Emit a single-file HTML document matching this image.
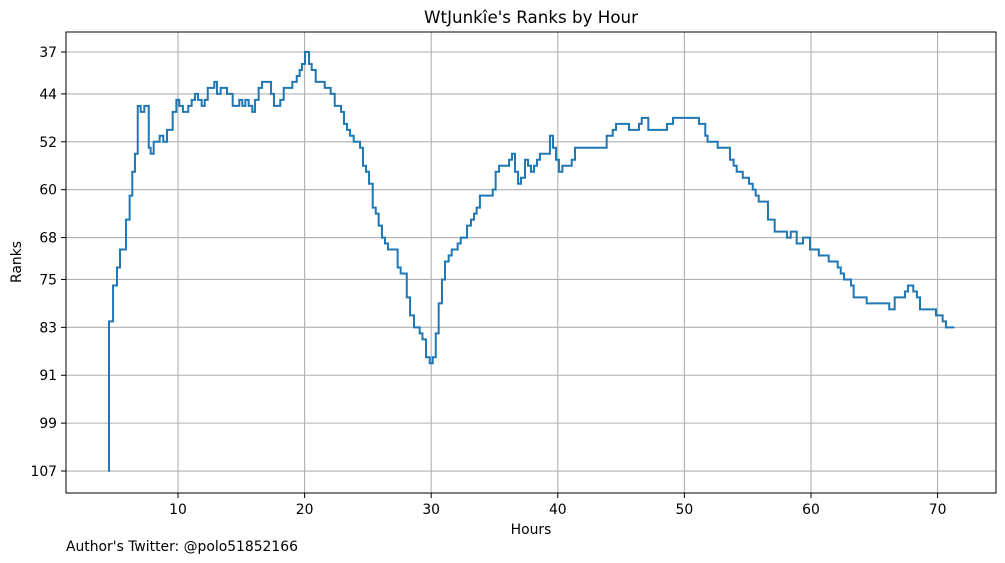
<!DOCTYPE html>
<html><head><meta charset="utf-8"><style>
html,body{margin:0;padding:0;background:#fff;}
svg{display:block;font-family:"DejaVu Sans","Liberation Sans",sans-serif;}
</style></head><body>
<svg id="chart" width="1005" height="563" viewBox="0 0 1005 563" xmlns="http://www.w3.org/2000/svg">
<rect x="0" y="0" width="1005" height="563" fill="#fff"/>
<text x="531" y="23" font-size="16.7" text-anchor="middle" fill="#000">WtJunkîe's Ranks by Hour</text>
<g id="grid"></g>
<g id="ticks"></g>
<path id="series" fill="none" stroke="#1f77b4" stroke-width="2" stroke-linejoin="miter"/>
<rect x="66" y="32" width="930" height="461" fill="none" stroke="#000" stroke-width="1"/>
<text x="531" y="534" font-size="13.9" text-anchor="middle">Hours</text>
<text transform="translate(21,262) rotate(-90)" font-size="13.9" text-anchor="middle">Ranks</text>
<text x="66" y="551" font-size="13.9">Author's Twitter: @polo51852166</text>
</svg>
<script>
const hours = [4.52,4.55,4.87,5.18,5.42,5.89,6.18,6.39,6.60,6.82,7.05,7.34,7.69,7.84,8.08,8.55,8.84,9.13,9.58,9.87,10.10,10.39,10.81,11.08,11.34,11.58,11.87,12.11,12.35,12.87,13.08,13.37,13.87,14.32,14.84,15.08,15.32,15.58,15.87,16.08,16.37,16.64,17.35,17.58,18.08,18.35,19.03,19.38,19.61,19.79,20.03,20.35,20.56,20.88,21.59,22.06,22.38,22.88,23.11,23.35,23.59,23.88,24.38,24.61,24.85,25.09,25.38,25.62,25.85,26.11,26.35,26.59,27.35,27.59,28.07,28.33,28.64,29.09,29.31,29.59,29.88,30.12,30.36,30.59,30.85,31.09,31.38,31.62,32.09,32.33,32.83,33.14,33.38,33.59,33.85,34.86,35.09,35.36,36.15,36.38,36.62,36.86,37.09,37.41,37.65,37.88,38.12,38.36,38.59,39.38,39.62,39.86,40.09,40.36,41.10,41.36,43.86,44.34,44.60,45.62,46.41,46.63,47.15,48.63,49.10,51.15,51.65,51.83,52.63,53.60,53.89,54.13,54.61,55.10,55.40,55.63,55.87,56.60,57.13,58.10,58.40,58.87,59.37,59.92,60.62,61.40,62.11,62.35,62.61,63.16,63.37,64.40,66.18,66.61,67.42,67.66,68.08,68.37,68.61,69.87,70.40,70.66,71.32];
const ranks = [107,82,76,73,70,65,61,57,54,46,47,46,53,54,52,51,52,50,47,45,46,47,46,45,44,45,46,45,43,42,44,43,44,46,45,46,45,46,47,45,43,42,44,46,45,43,42,41,40,39,37,39,40,42,43,44,46,47,49,50,51,52,53,56,57,59,63,64,66,68,69,70,73,74,78,81,83,84,85,88,89,88,84,79,75,72,71,70,69,68,66,65,64,63,61,60,57,56,55,54,57,59,58,55,56,57,56,55,54,51,53,55,57,56,55,53,51,50,49,50,49,48,50,49,48,49,51,52,53,55,56,57,58,59,60,61,62,65,67,68,67,69,68,70,71,72,73,74,75,76,78,79,80,78,77,76,77,78,80,81,82,83,83];
const xTicks = [10,20,30,40,50,60,70];
const yTicks = [37,44,52,60,68,75,83,91,99,107];

const NS = "http://www.w3.org/2000/svg";
const xScale = h => 178 + (h - 10) * 12.66;
const yScale = r => 52 + (r - 37) * 5.986;
const grid = document.getElementById('grid');
const ticks = document.getElementById('ticks');
function mk(tag, attrs, parent){const e=document.createElementNS(NS,tag);for(const k in attrs)e.setAttribute(k,attrs[k]);parent.appendChild(e);return e;}
xTicks.forEach(t=>{
  const x = xScale(t);
  const g = mk('line',{x1:x,x2:x,y1:32,y2:493,stroke:'#b0b0b0','stroke-width':1.1},grid);
  
  
  mk('line',{x1:x,x2:x,y1:493,y2:498,stroke:'#000','stroke-width':1},ticks);
  const l = mk('text',{x:x,y:514,'font-size':13.9,'text-anchor':'middle'},ticks);
  l.textContent = t;
  
  
});
yTicks.forEach(t=>{
  const y = yScale(t);
  const g = mk('line',{x1:66,x2:996,y1:y,y2:y,stroke:'#b0b0b0','stroke-width':1.1},grid);
  
  
  mk('line',{x1:61,x2:66,y1:y,y2:y,stroke:'#000','stroke-width':1},ticks);
  const l = mk('text',{x:57,y:y+5,'font-size':13.9,'text-anchor':'end'},ticks);
  l.textContent = t;
  
  
});
let d = '';
for (let i=0;i<hours.length;i++){
  const x = xScale(hours[i]).toFixed(2), y = yScale(ranks[i]).toFixed(2);
  if (i===0) d += 'M'+x+' '+y;
  else d += ' H'+x+' V'+y;
}
document.getElementById('series').setAttribute('d', d);
</script>
</body></html>
